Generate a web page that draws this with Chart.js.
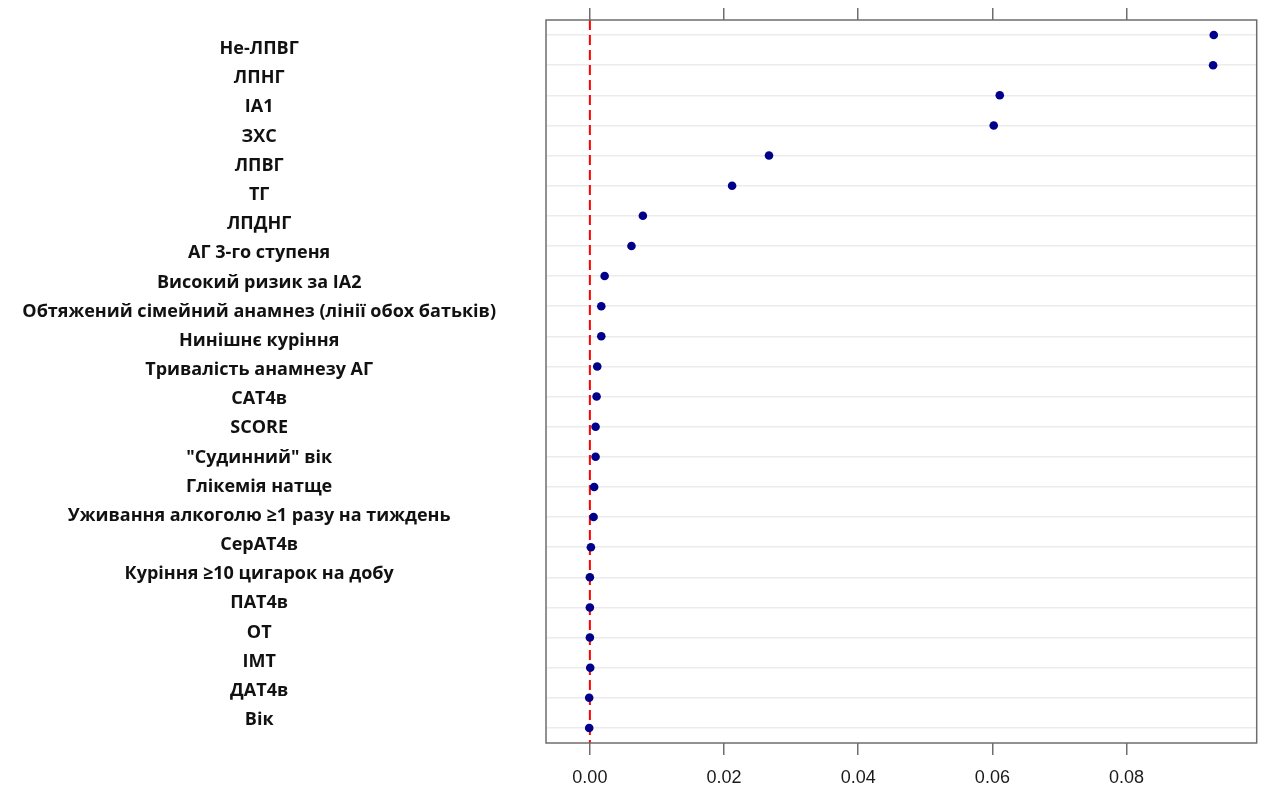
<!DOCTYPE html>
<html>
<head>
<meta charset="utf-8">
<script src="https://cdn.jsdelivr.net/npm/chart.js@4/dist/chart.umd.min.js"></script>
<style>
  html, body { margin: 0; padding: 0; background: #ffffff; }
  #wrap { width: 1261px; height: 785px; }
</style>
</head>
<body>
<div id="wrap"><canvas id="dotChart" width="1261" height="785"></canvas></div>
<script>
// Variables, top to bottom as in the plot
const factors = [
    'Не-ЛПВГ', 'ЛПНГ', 'IA1', 'ЗХС', 'ЛПВГ', 'ТГ', 'ЛПДНГ', 'АГ 3-го ступеня',
    'Високий ризик за IA2', 'Обтяжений сімейний анамнез (лінії обох батьків)',
    'Нинішнє куріння', 'Тривалість анамнезу АГ', 'САТ4в', 'SCORE',
    '"Судинний" вік', 'Глікемія натще', 'Уживання алкоголю ≥1 разу на тиждень',
    'СерАТ4в', 'Куріння ≥10 цигарок на добу', 'ПАТ4в', 'ОТ', 'ІМТ', 'ДАТ4в', 'Вік'
];

// Importance values
const importance = [
    0.0930, 0.0929, 0.0611, 0.0602, 0.0267, 0.0212, 0.0079, 0.0062,
    0.0022, 0.0017, 0.0017, 0.0011, 0.0010, 0.00085,
    0.00085, 0.00064, 0.00055,
    0.00015, 0.0000, 0.0000, 0.0000, 0.00005, -0.0001, -0.0001
];

const xTicks = [0.00, 0.02, 0.04, 0.06, 0.08];
const xMin = -0.00654;
const xMax = 0.0994;

// Red dashed reference line at zero + grey frame around the plot
const framePlugin = {
    id: 'frameAndZero',
    beforeDatasetsDraw(chart) {
        const { ctx, chartArea, scales } = chart;
        const x0 = scales.x.getPixelForValue(0);
        ctx.save();
        ctx.strokeStyle = '#ff0000';
        ctx.lineWidth = 2;
        ctx.setLineDash([10, 5]);
        ctx.beginPath();
        ctx.moveTo(x0, chartArea.top);
        ctx.lineTo(x0, chartArea.bottom);
        ctx.stroke();
        ctx.restore();
    },
    afterDraw(chart) {
        const { ctx, chartArea } = chart;
        ctx.save();
        ctx.strokeStyle = '#6e6e6e';
        ctx.lineWidth = 1.5;
        ctx.strokeRect(chartArea.left, chartArea.top,
            chartArea.right - chartArea.left, chartArea.bottom - chartArea.top);
        ctx.restore();
    }
};

// no extra room for half-labels at the scale ends
const noPad = (scale) => {
    scale.paddingTop = 0;
    scale.paddingBottom = 0;
    scale.paddingLeft = 0;
    scale.paddingRight = 0;
};

const xAxisGrid = {
    drawOnChartArea: false,
    drawTicks: true,
    tickLength: 12,
    color: '#6e6e6e',
    lineWidth: 1.5
};

const ctx = document.getElementById('dotChart').getContext('2d');

new Chart(ctx, {
    type: 'scatter',
    data: {
        datasets: [{
            data: factors.map((f, i) => ({ x: importance[i], y: f })),
            backgroundColor: '#00008b',
            borderColor: '#00008b',
            pointRadius: 4.3,
            pointHoverRadius: 4.3,
            borderWidth: 0
        }]
    },
    options: {
        responsive: false,
        animation: false,
        layout: {
            padding: { left: 0, right: 2, top: 0, bottom: 0 }
        },
        plugins: {
            legend: { display: false },
            tooltip: { enabled: false }
        },
        scales: {
            // rows of the dot plot (points + light row lines)
            y: {
                type: 'category',
                labels: factors,
                offset: true,
                position: 'left',
                border: { display: false },
                grid: {
                    color: '#ececec',
                    lineWidth: 1.5,
                    drawTicks: false
                },
                ticks: { display: false },
                afterFit(scale) {
                    scale.width = 0;
                    noPad(scale);
                }
            },
            // variable names sit a little lower than the rows in the original
            yNames: {
                type: 'linear',
                position: 'left',
                reverse: true,
                min: -0.994,
                max: 23.789,
                afterBuildTicks(scale) {
                    scale.ticks = factors.map((f, i) => ({ value: i }));
                },
                border: { display: false },
                grid: { display: false, drawTicks: false },
                ticks: {
                    crossAlign: 'center',
                    padding: 50,
                    color: '#111111',
                    font: {
                        family: '"Open Sans", sans-serif',
                        size: 18,
                        weight: 'bold'
                    },
                    callback: (v) => factors[v]
                },
                afterFit(scale) {
                    scale.width = 546;
                    noPad(scale);
                }
            },
            x: {
                type: 'linear',
                position: 'bottom',
                min: xMin,
                max: xMax,
                afterBuildTicks(scale) {
                    scale.ticks = xTicks.map(v => ({ value: v }));
                },
                border: { display: false },
                grid: xAxisGrid,
                ticks: {
                    padding: 12,
                    color: '#1a1a1a',
                    font: {
                        family: '"Liberation Sans", Arial, sans-serif',
                        size: 18
                    },
                    callback: v => v.toFixed(2)
                },
                afterFit(scale) {
                    scale.height = 42;
                    noPad(scale);
                }
            },
            xTop: {
                type: 'linear',
                position: 'top',
                min: xMin,
                max: xMax,
                afterBuildTicks(scale) {
                    scale.ticks = xTicks.map(v => ({ value: v }));
                },
                border: { display: false },
                grid: xAxisGrid,
                ticks: { display: false },
                afterFit(scale) {
                    scale.height = 20;
                    noPad(scale);
                }
            }
        }
    },
    plugins: [framePlugin]
});
</script>
</body>
</html>
